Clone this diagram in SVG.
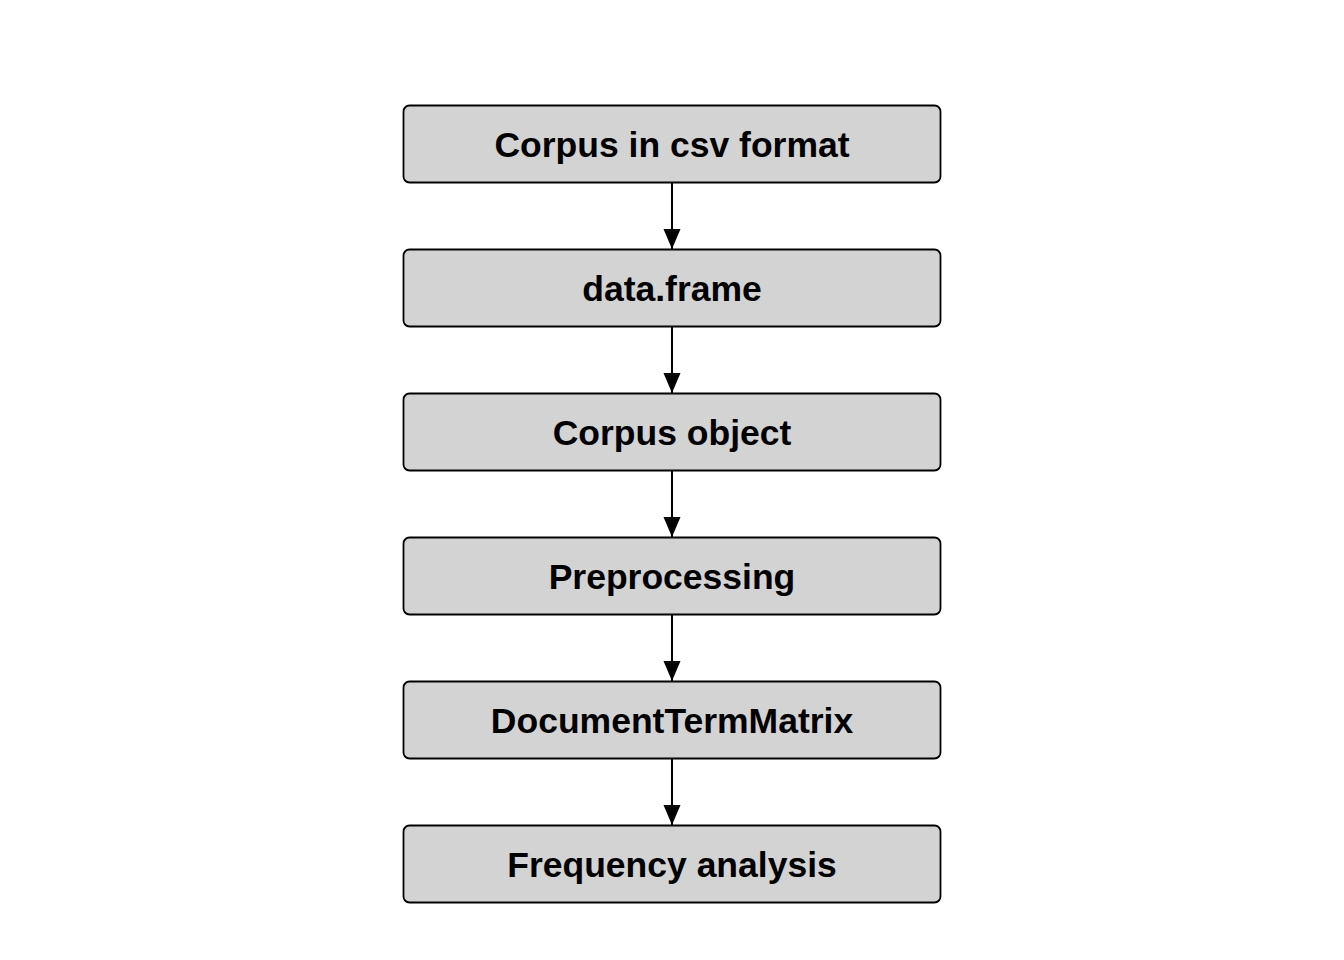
<svg xmlns="http://www.w3.org/2000/svg" width="1344" height="960" viewBox="0 0 1344 960">
<style>
.box{fill:#d3d3d3;stroke:#000;stroke-width:1.8}
.lbl{font-family:"Liberation Sans",Arial,sans-serif;font-weight:bold;font-size:35.5px;fill:#000;text-anchor:middle}
.edge{stroke:#000;stroke-width:2;fill:none}
</style>
<defs>
<marker id="ah" markerUnits="userSpaceOnUse" markerWidth="18" markerHeight="22" refX="20" refY="8.5" orient="auto">
<path d="M0,0 L20,8.5 L0,17 Z" fill="#000"/>
</marker>
</defs>
<rect width="1344" height="960" fill="#fff"/>
<g id="connectors">
<line class="edge" x1="672" y1="182" x2="672" y2="249" marker-end="url(#ah)"/>
<line class="edge" x1="672" y1="326" x2="672" y2="393" marker-end="url(#ah)"/>
<line class="edge" x1="672" y1="470" x2="672" y2="537" marker-end="url(#ah)"/>
<line class="edge" x1="672" y1="614" x2="672" y2="681" marker-end="url(#ah)"/>
<line class="edge" x1="672" y1="758" x2="672" y2="825" marker-end="url(#ah)"/>
</g>
<g id="n1"><rect class="box" x="403.5" y="105.5" width="537" height="77" rx="6"/><text class="lbl" x="672" y="157">Corpus in csv format</text></g>
<g id="n2"><rect class="box" x="403.5" y="249.5" width="537" height="77" rx="6"/><text class="lbl" x="672" y="301">data.frame</text></g>
<g id="n3"><rect class="box" x="403.5" y="393.5" width="537" height="77" rx="6"/><text class="lbl" x="672" y="445">Corpus object</text></g>
<g id="n4"><rect class="box" x="403.5" y="537.5" width="537" height="77" rx="6"/><text class="lbl" x="672" y="589">Preprocessing</text></g>
<g id="n5"><rect class="box" x="403.5" y="681.5" width="537" height="77" rx="6"/><text class="lbl" x="672" y="733">DocumentTermMatrix</text></g>
<g id="n6"><rect class="box" x="403.5" y="825.5" width="537" height="77" rx="6"/><text class="lbl" x="672" y="877">Frequency analysis</text></g>
</svg>
